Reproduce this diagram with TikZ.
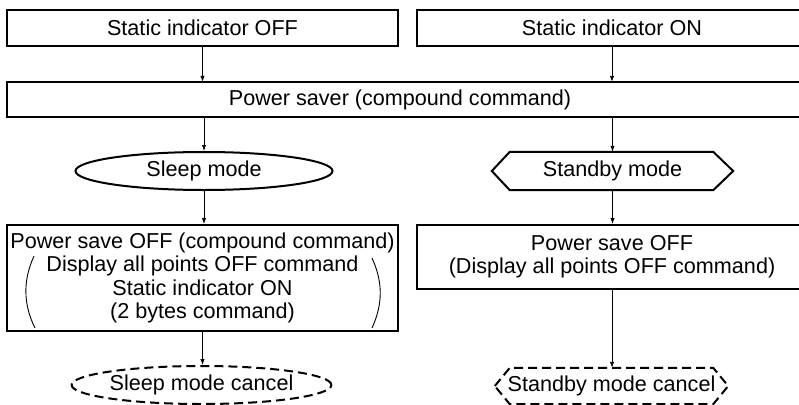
\documentclass[tikz,border=0pt]{standalone}
\usepackage{fontspec}
\setmainfont{Liberation Sans}
\usetikzlibrary{shapes.geometric,arrows.meta}
\begin{document}
\begin{tikzpicture}[x=1pt,y=-1pt,
  txt/.style={inner sep=0pt,font=\fontsize{21.6}{23.2}\selectfont,align=center},
  box/.style={txt,draw,line width=2pt,rectangle},
  oval/.style={txt,draw,line width=2pt,ellipse},
  dashedline/.style={dash pattern=on 9pt off 5pt},
  hexline/.style={line width=2pt,line join=miter},
  arr/.style={line width=0.9pt,-{Latex[length=6pt,width=4.5pt]}},
  paren/.style={line width=0.9pt}]
\useasboundingbox (0,0) rectangle (799,404);
\clip (0,0) rectangle (799,404);

% top row
\node[box,minimum width=391pt,minimum height=36pt] (soff) at (202.5,28) {Static indicator OFF};
\node[box,minimum width=390pt,minimum height=36pt] (son) at (612,28) {Static indicator ON};

% power saver
\node[txt,minimum width=786pt,minimum height=35pt] (ps) at (400,99.5) {Power saver (compound command)};
\draw[line width=2pt] (ps.north west) rectangle ([xshift=20pt]ps.south east);

% modes
\node[oval,minimum width=257pt,minimum height=38pt] (sleep) at (204,171) {Sleep mode};
\node[txt,minimum width=241pt,minimum height=38pt] (stby) at (612.5,171) {Standby mode};
\draw[hexline] (stby.west) -- ([xshift=18pt]stby.north west) -- ([xshift=-20pt]stby.north east)
  -- (stby.east) -- ([xshift=-20pt]stby.south east) -- ([xshift=18pt]stby.south west) -- cycle;

% power save off boxes
\node[box,minimum width=391pt,minimum height=106pt] (pso1) at (202.5,278)
  {Power save OFF (compound command)\\Display all points OFF command\\Static indicator ON\\(2 bytes command)};
\draw[paren] (34,256) .. controls (23,280) and (23,304) .. (35,328);
\draw[paren] (372,258) .. controls (383,282) and (383,304) .. (372,328);
\node[box,minimum width=390pt,minimum height=64pt] (pso2) at (612,257)
  {Power save OFF\\(Display all points OFF command)};

% cancel nodes
\node[oval,dashedline,minimum width=257pt,minimum height=38pt] (sleepc) at (201.5,385) {Sleep mode cancel};
\node[txt,minimum width=233pt,minimum height=36pt] (stbyc) at (611.5,386) {Standby mode cancel};
\draw[hexline,dashedline] (stbyc.west) -- ([xshift=15pt]stbyc.north west) -- ([xshift=-15pt]stbyc.north east)
  -- (stbyc.east) -- ([xshift=-15pt]stbyc.south east) -- ([xshift=15pt]stbyc.south west) -- cycle;

% connectors
\draw[arr] (soff.south) -- (soff.south |- ps.north);
\draw[arr] (son.south) -- (son.south |- ps.north);
\draw[arr] (sleep |- ps.south) -- (sleep.north);
\draw[arr] (stby |- ps.south) -- (stby.north);
\draw[arr] (sleep.south) -- (sleep.south |- pso1.north);
\draw[arr] (stby.south) -- (stby.south |- pso2.north);
\draw[arr] (pso1.south) -- (pso1.south |- sleepc.north);
\draw[arr] (pso2.south) -- (pso2.south |- stbyc.north);
\end{tikzpicture}
\end{document}
